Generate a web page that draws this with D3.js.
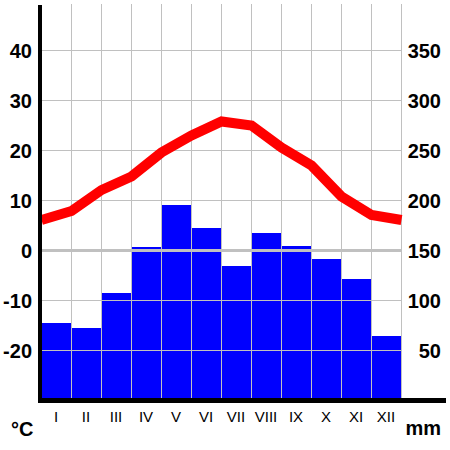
<!DOCTYPE html>
<html>
<head>
<meta charset="utf-8">
<script src="https://cdn.jsdelivr.net/npm/d3@7"></script>
<style>
  html, body { margin: 0; padding: 0; background: #fff; }
  svg { display: block; }
</style>
</head>
<body>
<script>
// ---- data ----
const months = ["I","II","III","IV","V","VI","VII","VIII","IX","X","XI","XII"];
const precipitation = [77, 72, 107, 153, 195, 172, 134, 167, 154, 141, 121, 64]; // mm
const temperature = [6, 7.8, 12, 14.7, 19.5, 22.9, 25.7, 24.9, 20.5, 16.9, 10.7, 7]; // °C
const tempTicks = [-20, -10, 0, 10, 20, 30, 40];
const precTicks = [50, 100, 150, 200, 250, 300, 350];

(function () {
const W = 450, H = 450;
const svg = d3.select("body").append("svg").attr("width", W).attr("height", H);

const pLeft = 41, pRight = 401, pTop = 4, pBottom = 400;
const FONT = "Liberation Sans, Arial, sans-serif";

const x = d3.scaleBand().domain(months).range([pLeft, pRight]).paddingInner(0).paddingOuter(0);
const yT = d3.scaleLinear().domain([-30, 50]).range([pBottom, pBottom - 400]);
const yP = d3.scaleLinear().domain([0, 400]).range([pBottom, pBottom - 400]);

// bars
svg.append("g").selectAll("rect").data(precipitation).join("rect")
  .attr("x", (d, i) => x(months[i]))
  .attr("width", x.bandwidth())
  .attr("y", d => yP(d))
  .attr("height", d => yP(0) - yP(d))
  .attr("fill", "#0000ff");

// grid (on top of bars)
const grid = svg.append("g").attr("stroke", "#c0c0c0").attr("stroke-width", 1).attr("shape-rendering", "crispEdges");
const vLines = months.slice(1).map(m => x(m)).concat([pRight]);
grid.selectAll("line.v").data(vLines).join("line").attr("class", "v")
  .attr("x1", d => d + 0.5).attr("x2", d => d + 0.5)
  .attr("y1", pTop).attr("y2", pBottom);
grid.selectAll("line.h").data(tempTicks.filter(v => v !== 0)).join("line").attr("class", "h")
  .attr("x1", pLeft).attr("x2", pRight + 1)
  .attr("y1", d => Math.round(yT(d)) + 0.5).attr("y2", d => Math.round(yT(d)) + 0.5);
// zero line
svg.append("line")
  .attr("x1", pLeft).attr("x2", pRight + 1)
  .attr("y1", yT(0) + 0.5).attr("y2", yT(0) + 0.5)
  .attr("stroke", "#c0c0c0").attr("stroke-width", 3);

// temperature line (points at month starts, closed back to January)
const tempPts = temperature.concat([temperature[0]]);
const xPos = i => pLeft + i * x.bandwidth() + 0.5;
svg.append("path")
  .datum(tempPts)
  .attr("d", d3.line().x((d, i) => xPos(i)).y(d => yT(d)))
  .attr("fill", "none")
  .attr("stroke", "#ff0000")
  .attr("stroke-width", 10)
  .attr("stroke-linejoin", "miter");

// axis lines
svg.append("rect").attr("x", 38).attr("y", pTop + 1).attr("width", 4).attr("height", pBottom - pTop + 2).attr("fill", "#000");
svg.append("rect").attr("x", 38).attr("y", 398).attr("width", 408).attr("height", 5).attr("fill", "#000");

// left tick labels
svg.append("g").selectAll("text").data(tempTicks).join("text")
  .attr("x", 32).attr("y", d => yT(d) + 8)
  .attr("text-anchor", "end")
  .attr("font-family", FONT)
  .attr("font-weight", "bold").attr("font-size", 20)
  .text(d => d);

// right tick labels
svg.append("g").selectAll("text").data(precTicks).join("text")
  .attr("x", 441).attr("y", d => yP(d) + 8)
  .attr("text-anchor", "end")
  .attr("font-family", FONT)
  .attr("font-weight", "bold").attr("font-size", 20)
  .text(d => d);

// month labels
svg.append("g").selectAll("text").data(months).join("text")
  .attr("x", d => x(d) + x.bandwidth() / 2).attr("y", 422)
  .attr("text-anchor", "middle")
  .attr("font-family", FONT)
  .attr("font-size", 15)
  .text(d => d);

// unit labels
svg.append("text").attr("x", 11).attr("y", 436)
  .attr("font-family", FONT)
  .attr("font-weight", "bold").attr("font-size", 20).text("°C");
svg.append("text").attr("x", 441).attr("y", 435).attr("text-anchor", "end")
  .attr("font-family", FONT)
  .attr("font-weight", "bold").attr("font-size", 20).text("mm");
})();
</script>
</body>
</html>
